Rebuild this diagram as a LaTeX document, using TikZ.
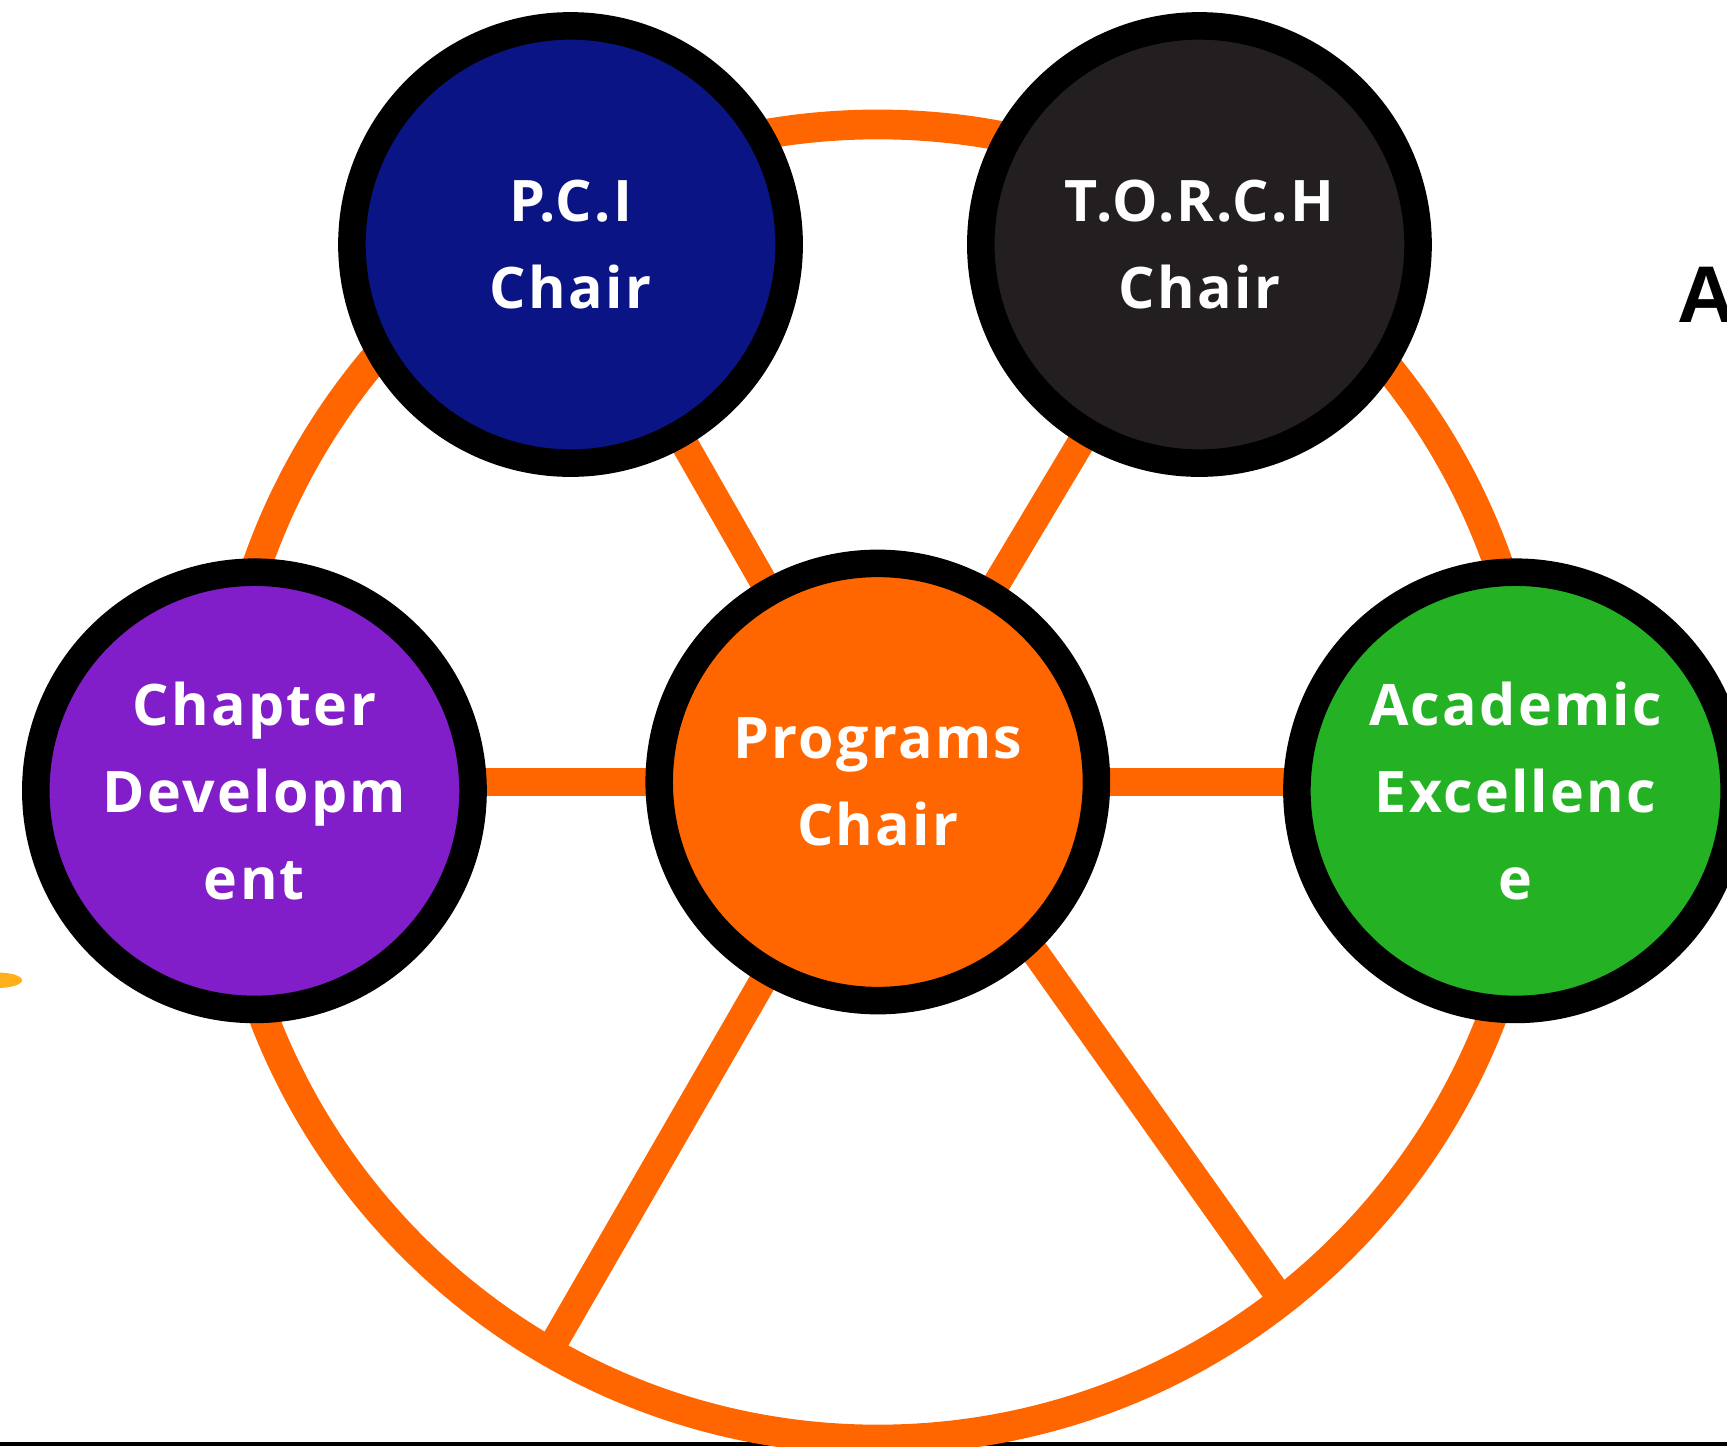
\documentclass[tikz,border=0pt]{standalone}
\usepackage{fontspec}
\newfontfamily\lbl[LetterSpace=4]{Open Sans}
\newfontfamily\afont{Liberation Sans}
\usetikzlibrary{calc}
\definecolor{ringorange}{HTML}{FF6600}
\definecolor{pcinavy}{HTML}{0A1485}
\definecolor{torchblack}{HTML}{231F20}
\definecolor{chappurple}{HTML}{821EC9}
\definecolor{acadgreen}{HTML}{24B224}
\definecolor{blobyellow}{HTML}{FFB01A}
\pgfdeclarelayer{bg}
\pgfsetlayers{bg,main}
\begin{document}
\begin{tikzpicture}[x=1pt,y=-1pt,
  chairnode/.style={circle, draw=black, line width=25pt, minimum size=397pt,
    inner sep=0pt, text=white, align=center,
    font=\lbl\bfseries\fontsize{52}{79}\selectfont},
  link/.style={draw=ringorange, line width=25pt},
  ringline/.style={draw=ringorange, line width=27pt}]
\useasboundingbox (0,0) rectangle (1568,1313);

% nodes
\node[chairnode, fill=ringorange] (prog) at (797,710) {Programs\\Chair};
\node[chairnode, fill=pcinavy] (pci) at (518,222) {P.C.I\\Chair};
\node[chairnode, fill=torchblack] (torch) at (1089,222) {T.O.R.C.H\\Chair};
\node[chairnode, fill=chappurple] (chap) at (231,718) {Chapter\\Developm\\ent};
\node[chairnode, fill=acadgreen] (acad) at (1376,718) {Academic\\Excellenc\\e};

\node[anchor=base west, inner sep=0pt, font=\afont\bfseries\fontsize{73}{80}\selectfont] (atext) at (1523,293) {A};

\coordinate (brc) at (1160,1175);

\begin{pgfonlayer}{bg}
  \fill[black] (0,1309.5) rectangle (1568,1313);
  \draw[ringline] (prog.center) circle[radius=597pt];
  \draw[link] (prog.center) -- (pci.center);
  \draw[link] (prog.center) -- (torch.center);
  \draw[link] (chap.center |- prog.center) -- (prog.center);
  \draw[link] (prog.center) -- (acad.center |- prog.center);
  \draw[link] (prog.center) -- (797-298.5,710+517);
  \draw[link] ([xshift=33pt]prog.center) -- (brc);
  \fill[blobyellow] (-2,890) ellipse[x radius=22pt, y radius=7pt];
\end{pgfonlayer}
\end{tikzpicture}
\end{document}
